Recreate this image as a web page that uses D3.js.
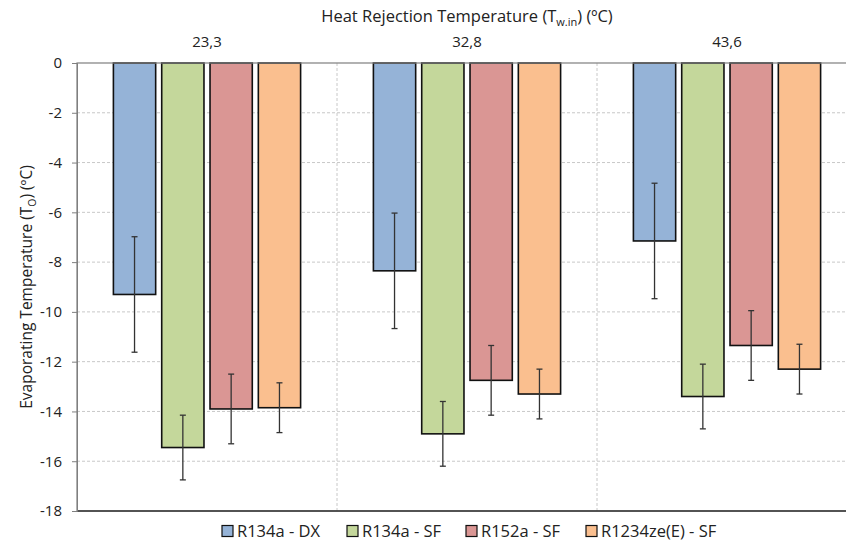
<!DOCTYPE html>
<html>
<head>
<meta charset="utf-8">
<script src="https://cdn.jsdelivr.net/npm/d3@7/dist/d3.min.js"></script>
<style>
  html, body { margin: 0; padding: 0; background: #fff; overflow: hidden; }
  svg { display: block; }
  text { font-family: "Open Sans", Lato, sans-serif; fill: #222; }
</style>
</head>
<body>
<svg id="chart" width="846" height="545"></svg>
<script>
// Heat rejection temperature groups (ºC), decimal comma as printed
const categories = ["23,3", "32,8", "43,6"];
const series = ["R134a - DX", "R134a - SF", "R152a - SF", "R1234ze(E) - SF"];
const colors = ["#95B3D7", "#C4D79B", "#DA9694", "#FABF8F"];

// Evaporating temperature per series, one value per category (ºC)
const r134aDX   = [-9.3, -8.35, -7.15];
const r134aSF   = [-15.45, -14.9, -13.4];
const r152aSF   = [-13.9, -12.75, -11.35];
const r1234zeSF = [-13.85, -13.3, -12.3];
// Half-width of the error bars for each series (ºC)
const errors = [2.32, 1.3, 1.4, 1.0];

const yTicks = [0, -2, -4, -6, -8, -10, -12, -14, -16, -18];

const values = [r134aDX, r134aSF, r152aSF, r1234zeSF];
const rows = [];
categories.forEach((c, ci) => {
  series.forEach((s, si) => {
    rows.push({ cat: c, ser: s, si, value: values[si][ci], err: errors[si] });
  });
});

const svg = d3.select("#chart");
const plot = { left: 77, top: 63, right: 857, bottom: 511 };

const x0 = d3.scaleBand().domain(categories).range([plot.left, plot.right]).padding(0);
const x1 = d3.scaleBand().domain(series)
  .range([x0.bandwidth() * 0.14, x0.bandwidth() * 0.86])
  .paddingInner(0.125);
const y = d3.scaleLinear().domain([0, -18]).range([plot.top, plot.bottom]);

// horizontal gridlines
svg.append("g").selectAll("line").data(yTicks.filter(t => t !== 0 && t !== -18)).join("line")
  .attr("x1", plot.left).attr("x2", plot.right)
  .attr("y1", d => y(d)).attr("y2", d => y(d))
  .attr("stroke", "#c8c8c8").attr("stroke-width", 1).attr("stroke-dasharray", "3,2");

// vertical separators between groups
svg.append("g").selectAll("line").data(categories.slice(1)).join("line")
  .attr("x1", d => x0(d)).attr("x2", d => x0(d))
  .attr("y1", plot.top).attr("y2", plot.bottom)
  .attr("stroke", "#c8c8c8").attr("stroke-width", 1).attr("stroke-dasharray", "3,2");

// bars
svg.append("g").selectAll("rect").data(rows).join("rect")
  .attr("x", d => x0(d.cat) + x1(d.ser))
  .attr("y", y(0))
  .attr("width", x1.bandwidth())
  .attr("height", d => y(d.value) - y(0))
  .attr("fill", d => colors[d.si])
  .attr("stroke", "#111").attr("stroke-width", 1.6);

// error bars
const eb = svg.append("g").attr("stroke", "#333").attr("stroke-width", 1.3);
rows.forEach(d => {
  const cx = x0(d.cat) + x1(d.ser) + x1.bandwidth() / 2;
  const y1 = y(d.value + d.err), y2 = y(d.value - d.err);
  eb.append("line").attr("x1", cx).attr("x2", cx).attr("y1", y1).attr("y2", y2);
  eb.append("line").attr("x1", cx - 3).attr("x2", cx + 3).attr("y1", y1).attr("y2", y1);
  eb.append("line").attr("x1", cx - 3).attr("x2", cx + 3).attr("y1", y2).attr("y2", y2);
});

// plot frame
svg.append("rect")
  .attr("x", plot.left).attr("y", plot.top)
  .attr("width", plot.right - plot.left).attr("height", plot.bottom - plot.top)
  .attr("fill", "none").attr("stroke", "#7f7f7f").attr("stroke-width", 1.2);
svg.append("line").attr("x1", plot.left).attr("x2", plot.right)
  .attr("y1", plot.bottom).attr("y2", plot.bottom)
  .attr("stroke", "#333").attr("stroke-width", 1.5);

// y axis
const yAxis = d3.axisLeft(y).tickValues(yTicks).tickFormat(d => String(d)).tickSize(5).tickPadding(10);
const ga = svg.append("g").attr("transform", `translate(${plot.left},0)`).call(yAxis);
ga.select(".domain").attr("stroke", "#7f7f7f");
ga.selectAll(".tick line").attr("stroke", "#7f7f7f");
ga.selectAll(".tick text").style("font-size", "15px").attr("fill", "#222");

// category labels along the top
svg.append("g").selectAll("text").data(categories).join("text")
  .attr("x", d => x0(d) + x0.bandwidth() / 2).attr("y", 47)
  .attr("text-anchor", "middle").style("font-size", "15px").text(d => d);

// top title
const title = svg.append("text")
  .attr("x", (plot.left + plot.right) / 2).attr("y", 22)
  .attr("text-anchor", "middle").style("font-size", "16.5px");
title.append("tspan").text("Heat Rejection Temperature (T");
title.append("tspan").attr("dy", 4).style("font-size", "11px").text("w.in");
title.append("tspan").attr("dy", -4).text(") (ºC)");

// y axis title
const yt = svg.append("text")
  .attr("transform", `translate(32,${(plot.top + plot.bottom) / 2}) rotate(-90)`)
  .attr("text-anchor", "middle").style("font-size", "15.5px");
yt.append("tspan").text("Evaporating Temperature (T");
yt.append("tspan").attr("dy", 4).style("font-size", "10.5px").text("O");
yt.append("tspan").attr("dy", -4).text(") (ºC)");

// legend
const legendX = [222, 347, 466, 586];
const lg = svg.append("g").selectAll("g").data(series).join("g")
  .attr("transform", (d, i) => `translate(${legendX[i]},531)`);
lg.append("rect").attr("x", 0).attr("y", -5.5).attr("width", 11).attr("height", 11)
  .attr("fill", (d, i) => colors[i]).attr("stroke", "#111").attr("stroke-width", 1.2);
lg.append("text").attr("x", 15).attr("y", 5.5).style("font-size", "16.5px").text(d => d);
</script>
</body>
</html>
